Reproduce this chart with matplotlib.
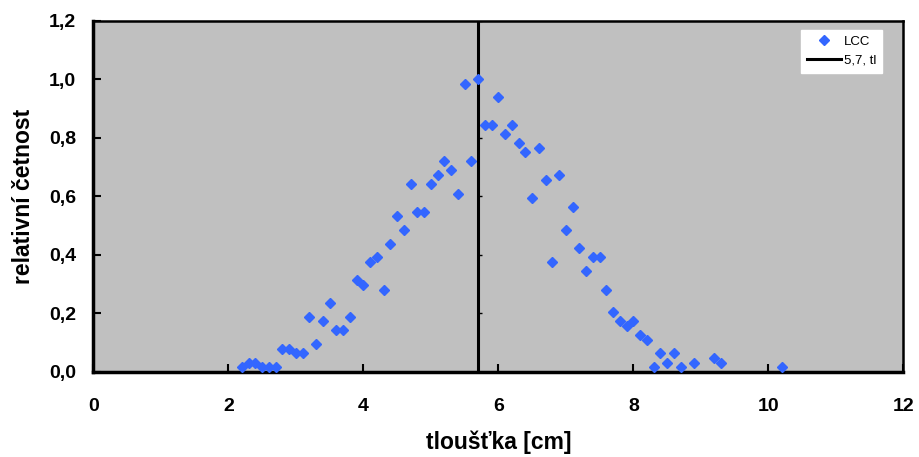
import numpy as np
import matplotlib.pyplot as plt
from matplotlib.ticker import FuncFormatter, MultipleLocator

# LCC data: thickness [cm] vs relative frequency
tloustka = [2.2, 2.3, 2.4, 2.5, 2.6, 2.7, 2.8, 2.9, 3.0, 3.1,
            3.2, 3.3, 3.4, 3.5, 3.6, 3.7, 3.8, 3.9, 4.0, 4.1,
            4.2, 4.3, 4.4, 4.5, 4.6, 4.7, 4.8, 4.9, 5.0, 5.1,
            5.2, 5.3, 5.4, 5.5, 5.6, 5.7, 5.8, 5.9, 6.0, 6.1,
            6.2, 6.3, 6.4, 6.5, 6.6, 6.7, 6.8, 6.9, 7.0, 7.1,
            7.2, 7.3, 7.4, 7.5, 7.6, 7.7, 7.8, 7.9, 8.0, 8.1,
            8.2, 8.3, 8.4, 8.5, 8.6, 8.7, 8.9, 9.2, 9.3, 10.2]
cetnost = [0.016, 0.031, 0.031, 0.016, 0.016, 0.016, 0.078, 0.078, 0.063, 0.063,
           0.188, 0.094, 0.172, 0.234, 0.141, 0.141, 0.188, 0.313, 0.297, 0.375,
           0.391, 0.281, 0.438, 0.531, 0.484, 0.641, 0.547, 0.547, 0.641, 0.672,
           0.719, 0.688, 0.609, 0.984, 0.719, 1.000, 0.844, 0.844, 0.938, 0.813,
           0.844, 0.781, 0.750, 0.594, 0.766, 0.656, 0.375, 0.672, 0.484, 0.563,
           0.422, 0.344, 0.391, 0.391, 0.281, 0.203, 0.172, 0.156, 0.172, 0.125,
           0.109, 0.016, 0.063, 0.031, 0.063, 0.016, 0.031, 0.047, 0.031, 0.016]

# vertical reference line at 5,7
line_x = [5.7, 5.7, 5.7, 5.7, 5.7, 5.7, 5.7]
line_y = [0.0, 0.2, 0.4, 0.6, 0.8, 1.0, 1.2]

plt.rcParams['font.family'] = ['Liberation Sans', 'DejaVu Sans']

fig = plt.figure(figsize=(9.2, 4.57), dpi=100)
ax = fig.add_axes([93.5 / 920, (457 - 371.7) / 457, 810 / 920, 351 / 457])
ax.set_facecolor('#C0C0C0')

ax.plot(tloustka, cetnost, linestyle='none', marker='D', markersize=4.6,
        color='#3366FF', label='LCC', zorder=3)
ax.plot(line_x, line_y, color='black', linewidth=2.2, label='5,7, tl', zorder=2)
ax.plot(line_x, line_y, linestyle='none', marker=1, markersize=3,
        color='black', markeredgewidth=1, zorder=2)

ax.set_xlim(0, 12)
ax.set_ylim(0, 1.2)
ax.xaxis.set_major_locator(MultipleLocator(2))
ax.yaxis.set_major_locator(MultipleLocator(0.2))
ax.yaxis.set_major_formatter(FuncFormatter(lambda v, p: f"{v:.1f}".replace('.', ',')))

ax.tick_params(direction='in', length=6, width=1.5, labelsize=14)
ax.tick_params(axis='y', pad=12.5)
ax.tick_params(axis='x', pad=19)
for lab in ax.get_xticklabels() + ax.get_yticklabels():
    lab.set_fontweight('bold')

for side in ['left', 'bottom']:
    ax.spines[side].set_linewidth(2.5)
for side in ['top', 'right']:
    ax.spines[side].set_linewidth(1.8)

ax.set_xlabel('tloušťka [cm]', fontsize=16.5, fontweight='bold', labelpad=11)
ax.set_ylabel('relativní četnost', fontsize=16.5, fontweight='bold', labelpad=10)

leg = ax.legend(loc='upper right', bbox_to_anchor=(0.9735, 0.974), fontsize=9.5,
                frameon=True, fancybox=False, edgecolor='white', framealpha=1,
                handlelength=2.6, borderpad=0.45, labelspacing=0.5, handletextpad=0.2,
                borderaxespad=0)

plt.savefig('out.png', dpi=100)
